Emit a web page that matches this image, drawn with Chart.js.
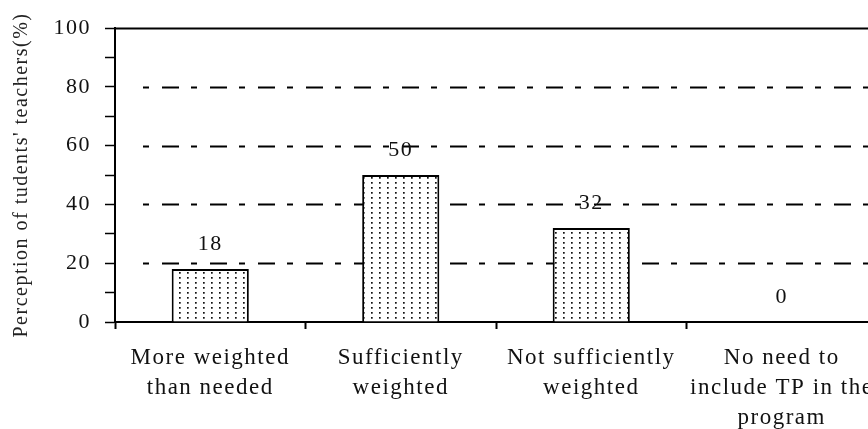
<!DOCTYPE html>
<html><head><meta charset="utf-8">
<script src="https://cdn.jsdelivr.net/npm/chart.js@4.4.0/dist/chart.umd.min.js"></script>
<style>html,body{margin:0;padding:0;overflow:hidden;background:#fff;width:868px;height:429px}
#wrap{width:880px;height:429px;position:relative}</style>
</head><body><div id="wrap"><canvas id="c" width="880" height="429"></canvas></div>
<script>
const categories = [["More weighted","than needed"],["Sufficiently","weighted"],["Not sufficiently","weighted"],["No need to","include TP in the","program"]];
const values = [18, 50, 32, 0];
const yMajorTicks = [0, 20, 40, 60, 80, 100];
const dashedGridValues = [20, 40, 60, 80];
const solidGridValues = [100];
const yTitle = "Perception of tudents' teachers(%)";

const SERIF = "'Liberation Serif','Times New Roman',serif";
const LETTER_SPACING = '1.5px';

function makePattern(){
  const p = document.createElement('canvas');
  p.width = 8; p.height = 5;
  const c = p.getContext('2d');
  c.fillStyle = '#fff'; c.fillRect(0,0,8,5);
  c.fillStyle = '#111'; c.fillRect(3,2,1.7,1.7);
  return document.getElementById('c').getContext('2d').createPattern(p,'repeat');
}

const spacingPlugin = {
  id: 'spacing',
  beforeLayout(chart){ chart.ctx.letterSpacing = LETTER_SPACING; },
  beforeDraw(chart){ chart.ctx.letterSpacing = LETTER_SPACING; }
};

const gridPlugin = {
  id: 'dashgrid',
  beforeDatasetsDraw(chart){
    const {ctx, chartArea, scales:{y}} = chart;
    ctx.save();
    ctx.strokeStyle = '#000';
    ctx.lineWidth = 1.8;
    dashedGridValues.forEach(v => {
      const py = Math.round(y.getPixelForValue(v)) + 0.5;
      ctx.setLineDash([6,13,17,12]);
      ctx.lineDashOffset = 36;
      ctx.beginPath(); ctx.moveTo(chartArea.left + 16, py); ctx.lineTo(chartArea.right, py); ctx.stroke();
    });
    solidGridValues.forEach(v => {
      const py = Math.round(y.getPixelForValue(v)) + 0.5;
      ctx.setLineDash([]);
      ctx.lineWidth = 2;
      ctx.beginPath(); ctx.moveTo(chartArea.left, py); ctx.lineTo(chartArea.right, py); ctx.stroke();
    });
    ctx.restore();
  },
  afterDatasetsDraw(chart){
    const {ctx} = chart;
    const meta = chart.getDatasetMeta(0);
    ctx.save();
    ctx.letterSpacing = LETTER_SPACING;
    ctx.fillStyle = '#111';
    ctx.font = "22px " + SERIF;
    ctx.textAlign = 'center';
    ctx.textBaseline = 'middle';
    meta.data.forEach((bar, i) => {
      ctx.fillText(String(values[i]), bar.x, bar.y - 25);
    });
    ctx.restore();
  }
};

new Chart(document.getElementById('c'), {
  type: 'bar',
  data: {
    labels: categories,
    datasets: [{
      data: values,
      backgroundColor: makePattern(),
      borderColor: '#000',
      borderWidth: 2,
      categoryPercentage: 1,
      barPercentage: 0.405
    }]
  },
  options: {
    responsive: false,
    animation: false,
    devicePixelRatio: 1,
    layout: { padding: { top: 28, right: 3, left: 0, bottom: 0 } },
    plugins: { legend: { display: false }, tooltip: { enabled: false } },
    scales: {
      x: {
        offset: true,
        grid: { offset: true, drawOnChartArea: false, tickLength: 7, tickColor: '#000', tickWidth: 2 },
        border: { color: '#000', width: 2 },
        ticks: { color: '#111', font: { family: SERIF, size: 23, lineHeight: '30px' }, padding: 14, maxRotation: 0, autoSkip: false },
        afterFit(s){ s.height = 107; s.paddingLeft = 0; s.paddingRight = 0; }
      },
      y: {
        min: 0, max: 100,
        grid: { drawOnChartArea: false, tickLength: 10, tickColor: '#000', tickWidth: 1.5 },
        border: { color: '#000', width: 2 },
        ticks: {
          stepSize: 10, autoSkip: false, padding: 14, color: '#111',
          font: { family: SERIF, size: 22 },
          callback: (v) => yMajorTicks.includes(v) ? String(v) : ''
        },
        title: { display: true, text: yTitle, color: '#222', font: { family: SERIF, size: 20 }, padding: { top: 10, bottom: 0 } },
        afterFit(s){ s.width = 115; }
      }
    }
  },
  plugins: [spacingPlugin, gridPlugin]
});
</script></body></html>
